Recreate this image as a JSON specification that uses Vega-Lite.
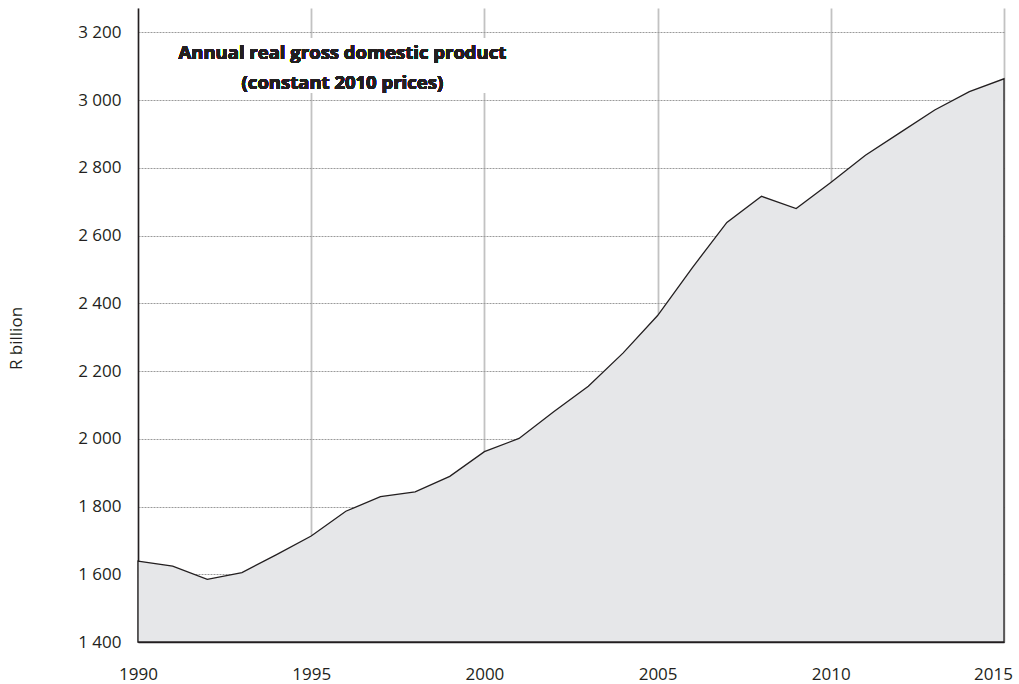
{
  "$schema": "https://vega.github.io/schema/vega-lite/v6.json",
  "width": 866,
  "height": 634,
  "autosize": {"type": "none"},
  "padding": {"left": 138, "top": 8, "right": 15, "bottom": 42},
  "background": "white",
  "config": {
    "view": {"stroke": null},
    "font": "Open Sans",
    "axis": {
      "labelFont": "Open Sans",
      "labelFontSize": 17,
      "labelColor": "#231f20",
      "titleFont": "Open Sans",
      "titleFontSize": 17,
      "titleFontWeight": "normal",
      "titleColor": "#231f20",
      "ticks": false,
      "tickSize": 0,
      "domainColor": "#231f20",
      "domainWidth": 1.5
    }
  },
  "data": {
    "values": [
      {"year": 1990, "gdp": 1639},
      {"year": 1991, "gdp": 1624},
      {"year": 1992, "gdp": 1585},
      {"year": 1993, "gdp": 1605},
      {"year": 1994, "gdp": 1658},
      {"year": 1995, "gdp": 1713},
      {"year": 1996, "gdp": 1786},
      {"year": 1997, "gdp": 1829},
      {"year": 1998, "gdp": 1843},
      {"year": 1999, "gdp": 1889},
      {"year": 2000, "gdp": 1962},
      {"year": 2001, "gdp": 2001},
      {"year": 2002, "gdp": 2080},
      {"year": 2003, "gdp": 2155},
      {"year": 2004, "gdp": 2253},
      {"year": 2005, "gdp": 2364},
      {"year": 2006, "gdp": 2505},
      {"year": 2007, "gdp": 2639},
      {"year": 2008, "gdp": 2716},
      {"year": 2009, "gdp": 2680},
      {"year": 2010, "gdp": 2757},
      {"year": 2011, "gdp": 2837},
      {"year": 2012, "gdp": 2904},
      {"year": 2013, "gdp": 2971},
      {"year": 2014, "gdp": 3025},
      {"year": 2015, "gdp": 3063}
    ]
  },
  "layer": [
    {
      "mark": {"type": "area", "fill": "#e6e7e9", "stroke": "#231f20", "strokeWidth": 1.3, "fillOpacity": 1},
      "encoding": {
        "x": {
          "field": "year",
          "type": "quantitative",
          "scale": {"domain": [1990, 2015], "nice": false, "zero": false},
          "axis": {
            "title": null,
            "values": [1990, 1995, 2000, 2005, 2010, 2015],
            "format": "d",
            "labelFlush": false,
            "labelPadding": 24,
            "labelOffset": {"condition": {"test": "datum.value === 2015", "value": -11}, "value": 0},
            "grid": true,
            "gridColor": "#c2c2c2",
            "gridWidth": 1.8
          }
        },
        "y": {
          "field": "gdp",
          "type": "quantitative",
          "scale": {"domain": [1400, 3272], "nice": false, "zero": false},
          "axis": {
            "title": "R billion",
            "values": [1400, 1600, 1800, 2000, 2200, 2400, 2600, 2800, 3000, 3200],
            "labelExpr": "replace(format(datum.value, ','), ',', ' ')",
            "labelFlush": false,
            "labelPadding": 17,
            "grid": true,
            "gridColor": "#9a9a9a",
            "gridDash": [2, 1],
            "gridWidth": 1,
            "titleAngle": -90,
            "titleAlign": "center",
            "titleBaseline": "middle",
            "titleX": -122,
            "titleY": 330
          }
        },
        "y2": {"datum": 1400}
      }
    },
    {
      "mark": {"type": "rect", "fill": "white", "stroke": null},
      "encoding": {
        "x": {"datum": 1991.2, "type": "quantitative"},
        "x2": {"datum": 2000.6},
        "y": {"datum": 3182, "type": "quantitative"},
        "y2": {"datum": 3021}
      }
    },
    {
      "mark": {
        "type": "text",
        "text": ["Annual real gross domestic product", "(constant 2010 prices)"],
        "font": "Open Sans",
        "fontSize": 18.5,
        "fontWeight": "bold",
        "color": "#231f20",
        "align": "center",
        "baseline": "middle",
        "lineHeight": 30.5
      },
      "encoding": {
        "x": {"datum": 1995.9, "type": "quantitative"},
        "y": {"datum": 3140, "type": "quantitative"}
      }
    }
  ]
}
